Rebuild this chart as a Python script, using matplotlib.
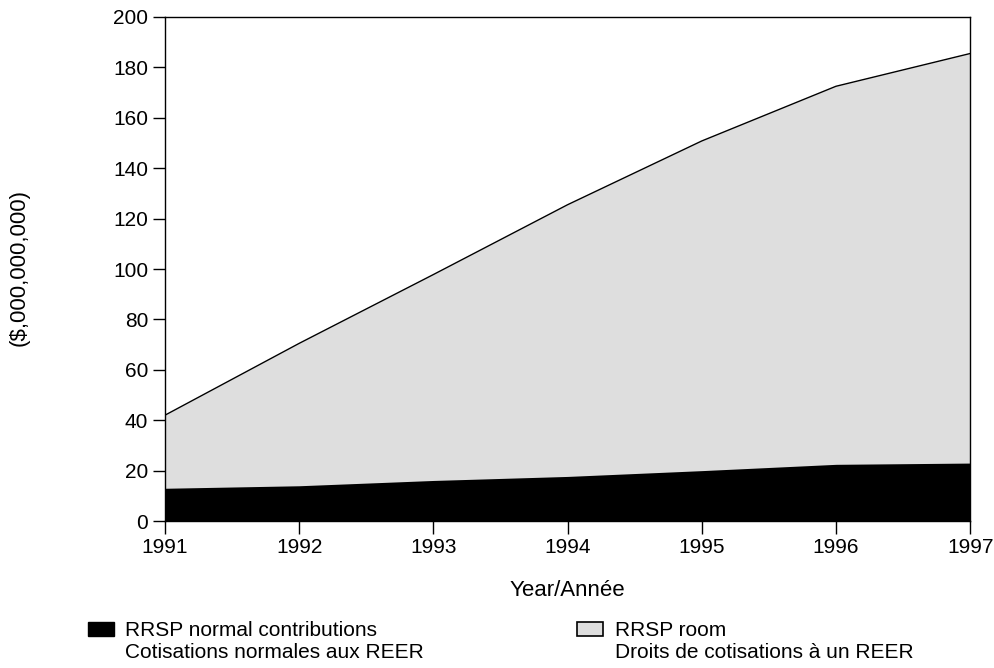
import numpy as np
import matplotlib
matplotlib.use('Agg')
import matplotlib.pyplot as plt
from matplotlib.patches import Rectangle

plt.rcParams['font.family'] = ['Liberation Sans', 'DejaVu Sans']

# data (billions of dollars)
years = [1991, 1992, 1993, 1994, 1995, 1996, 1997]
rrsp_room = [42.0, 70.5, 97.8, 125.5, 150.8, 172.5, 185.5]
rrsp_contrib = [13.0, 14.0, 16.1, 17.7, 20.0, 22.5, 23.0]

fig = plt.figure(figsize=(9.94, 6.68), dpi=100)
ax = fig.add_axes([0.166, 0.22, 0.810, 0.7546])

fs = 16
gray = '#dedede'
ax.fill_between(years, 0, rrsp_room, color=gray, linewidth=0)
ax.plot(years, rrsp_room, color='black', linewidth=1)
ax.fill_between(years, 0, rrsp_contrib, color='black', linewidth=0)

ax.set_xlim(1991, 1997)
ax.set_ylim(0, 200)
ax.set_xticks(years)
ax.set_yticks(np.arange(0, 201, 20))
ax.tick_params(axis='both', direction='out', length=9, width=1, labelsize=15, pad=3)
for s in ax.spines.values():
    s.set_linewidth(1)

ax.set_xlabel('Year/Année', fontsize=fs, labelpad=17)
fig.text(0.019, 0.6, '($,000,000,000)', rotation=90, fontsize=fs,
         ha='center', va='center')

# legend drawn by hand, two-line labels
fig.patches.append(Rectangle((0.0885, 0.048), 0.026, 0.021, transform=fig.transFigure,
                             facecolor='black', edgecolor='black', linewidth=1))
fig.text(0.126, 0.039, 'RRSP normal contributions\nCotisations normales aux REER',
         fontsize=15, ha='left', va='center', linespacing=1.2)
fig.patches.append(Rectangle((0.5805, 0.048), 0.026, 0.021, transform=fig.transFigure,
                             facecolor=gray, edgecolor='black', linewidth=1.2))
fig.text(0.619, 0.039, 'RRSP room\nDroits de cotisations à un REER',
         fontsize=15, ha='left', va='center', linespacing=1.2)

fig.savefig('out.png', dpi=100)
